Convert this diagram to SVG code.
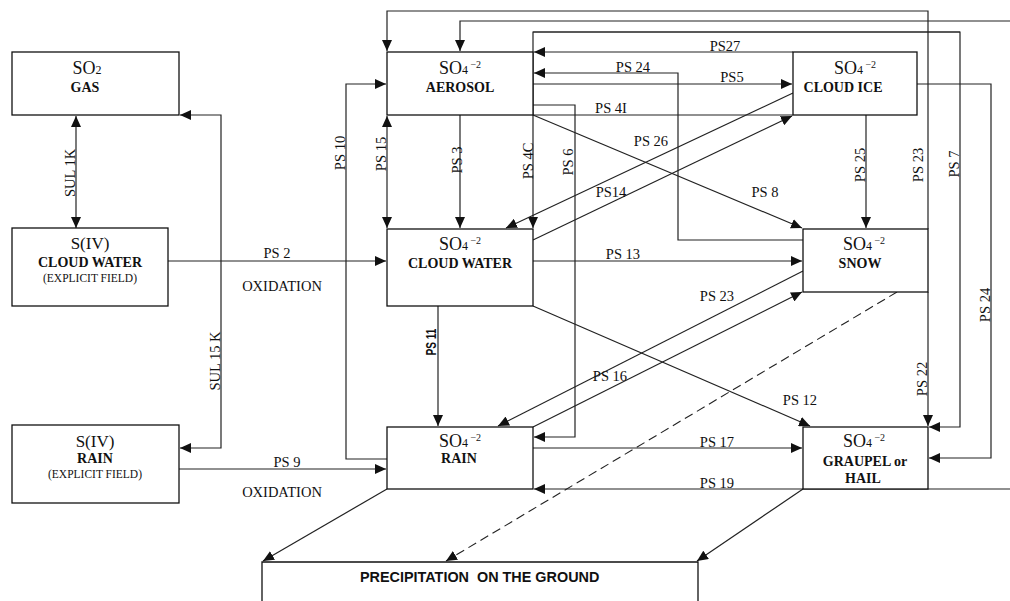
<svg xmlns="http://www.w3.org/2000/svg" width="1010" height="601" viewBox="0 0 1010 601">
<style>
.box{fill:#fff;stroke:#111;stroke-width:1.3}
.ln{fill:none;stroke:#222;stroke-width:1.2}
.dash{fill:none;stroke:#222;stroke-width:1.1;stroke-dasharray:9,5}
.t{font-family:"Liberation Serif","Times New Roman",serif;fill:#111}
.big{font-size:18px}
.bold{font-size:14px;font-weight:bold}
.small{font-size:11.5px}
.lab{font-family:"Liberation Serif","Times New Roman",serif;font-size:14.5px;fill:#111}
.sans{font-family:"Liberation Sans",Arial,sans-serif;font-weight:bold;fill:#111}
</style>
<defs>
<marker id="ar" markerUnits="userSpaceOnUse" markerWidth="12" markerHeight="10" refX="11" refY="5" orient="auto-start-reverse">
<path d="M0,0 L11,5 L0,10 z" fill="#111"/>
</marker>
</defs>
<rect width="1010" height="601" fill="#fff"/>

<g id="connectors">
<path class="ln" d="M76,116 V228" marker-start="url(#ar)" marker-end="url(#ar)"/>
<path class="ln" d="M180,115 H221 V448 H180" marker-start="url(#ar)" marker-end="url(#ar)"/>
<path class="ln" d="M168,261 H386" marker-end="url(#ar)"/>
<path class="ln" d="M179,469 H386" marker-end="url(#ar)"/>
<path class="ln" d="M387,459 H346 V84 H386" marker-end="url(#ar)"/>
<path class="ln" d="M928,229 V11 H387 V51" marker-end="url(#ar)"/>
<path class="ln" d="M1010,21 H460 V51" marker-end="url(#ar)"/>
<path class="ln" d="M960,32 H533 V228" marker-end="url(#ar)"/>
<path class="ln" d="M533,32 H960 V427 H929" marker-end="url(#ar)"/>
<path class="ln" d="M793,52 H534" marker-end="url(#ar)"/>
<path class="ln" d="M803,240 H678 V73 H534" marker-end="url(#ar)"/>
<path class="ln" d="M533,84 H792" marker-end="url(#ar)"/>
<path class="ln" d="M533,105 H575 V437 H534" marker-end="url(#ar)"/>
<path class="ln" d="M533,115 H793"/>
<path class="ln" d="M387,116 V228" marker-start="url(#ar)" marker-end="url(#ar)"/>
<path class="ln" d="M460,115 V228" marker-end="url(#ar)"/>
<path class="ln" d="M793,93 L506,228" marker-end="url(#ar)"/>
<path class="ln" d="M533,240 L792,116" marker-end="url(#ar)"/>
<path class="ln" d="M533,115 L802,228" marker-end="url(#ar)"/>
<path class="ln" d="M533,261 H802" marker-end="url(#ar)"/>
<path class="ln" d="M803,271 L498,426" marker-end="url(#ar)"/>
<path class="ln" d="M533,427 L802,292" marker-end="url(#ar)"/>
<path class="ln" d="M533,306 L810,426" marker-end="url(#ar)"/>
<path class="ln" d="M533,448 H802" marker-end="url(#ar)"/>
<path class="ln" d="M1010,489 H534" marker-end="url(#ar)"/>
<path class="ln" d="M438,306 V426" marker-end="url(#ar)"/>
<path class="ln" d="M866,115 V228" marker-end="url(#ar)"/>
<path class="ln" d="M928,292 V426" marker-end="url(#ar)"/>
<path class="ln" d="M917,84 H991 V458 H929" marker-end="url(#ar)"/>
<path class="dash" d="M897,292 L446,561" marker-end="url(#ar)"/>
<path class="ln" d="M387,489 L263,561" marker-end="url(#ar)"/>
<path class="ln" d="M803,489 L697,561" marker-end="url(#ar)"/>
</g>

<g id="labels">
<text class="lab" text-anchor="middle" transform="translate(75,173) rotate(-90)">SUL 1K</text>
<text class="lab" text-anchor="middle" transform="translate(220,361) rotate(-90)">SUL 15 K</text>
<text class="lab" text-anchor="middle" transform="translate(345,153) rotate(-90)">PS 10</text>
<text class="lab" text-anchor="middle" transform="translate(386,154) rotate(-90)">PS 15</text>
<text class="lab" text-anchor="middle" transform="translate(462,160) rotate(-90)">PS 3</text>
<text class="lab" text-anchor="middle" transform="translate(533,161) rotate(-90)">PS 4C</text>
<text class="lab" text-anchor="middle" transform="translate(573,162) rotate(-90)">PS 6</text>
<text class="sans" font-size="14" text-anchor="middle" textLength="27" lengthAdjust="spacingAndGlyphs" transform="translate(436,342) rotate(-90)">PS 11</text>
<text class="lab" text-anchor="middle" transform="translate(865,165) rotate(-90)">PS 25</text>
<text class="lab" text-anchor="middle" transform="translate(923,165) rotate(-90)">PS 23</text>
<text class="lab" text-anchor="middle" transform="translate(959,164) rotate(-90)">PS 7</text>
<text class="lab" text-anchor="middle" transform="translate(927,379) rotate(-90)">PS 22</text>
<text class="lab" text-anchor="middle" transform="translate(990,305) rotate(-90)">PS 24</text>
<text class="lab" text-anchor="middle" x="277" y="258">PS 2</text>
<text class="lab" text-anchor="middle" x="282" y="291">OXIDATION</text>
<text class="lab" text-anchor="middle" x="287" y="467">PS 9</text>
<text class="lab" text-anchor="middle" x="282" y="497">OXIDATION</text>
<text class="lab" text-anchor="middle" x="633" y="72">PS 24</text>
<text class="lab" text-anchor="middle" x="732" y="82">PS5</text>
<text class="lab" text-anchor="middle" x="725" y="51">PS27</text>
<text class="lab" text-anchor="middle" x="611" y="113">PS 4I</text>
<text class="lab" text-anchor="middle" x="651" y="146">PS 26</text>
<text class="lab" text-anchor="middle" x="611" y="197">PS14</text>
<text class="lab" text-anchor="middle" x="765" y="197">PS 8</text>
<text class="lab" text-anchor="middle" x="623" y="259">PS 13</text>
<text class="lab" text-anchor="middle" x="717" y="301">PS 23</text>
<text class="lab" text-anchor="middle" x="610" y="381" font-size="11">PS 16</text>
<text class="lab" text-anchor="middle" x="800" y="405">PS 12</text>
<text class="lab" text-anchor="middle" x="717" y="447">PS 17</text>
<text class="lab" text-anchor="middle" x="717" y="488">PS 19</text>
</g>

<g id="so2-gas">
<rect class="box" x="12" y="52" width="167" height="63"/>
<text class="t big" text-anchor="middle" x="87" y="74">SO<tspan font-size="12">2</tspan></text>
<text class="t bold" text-anchor="middle" x="85" y="92">GAS</text>
</g>
<g id="siv-cloud-water">
<rect class="box" x="12" y="228" width="156" height="78"/>
<text class="t" font-size="17" text-anchor="middle" x="90" y="249">S(IV)</text>
<text class="t bold" text-anchor="middle" x="90" y="267">CLOUD WATER</text>
<text class="t small" text-anchor="middle" x="90" y="282">(EXPLICIT FIELD)</text>
</g>
<g id="siv-rain">
<rect class="box" x="12" y="425" width="167" height="78"/>
<text class="t" font-size="17" text-anchor="middle" x="95" y="447">S(IV)</text>
<text class="t bold" text-anchor="middle" x="95" y="463">RAIN</text>
<text class="t small" text-anchor="middle" x="95" y="478">(EXPLICIT FIELD)</text>
</g>
<g id="so4-aerosol">
<rect class="box" x="387" y="52" width="146" height="63"/>
<text class="t big" text-anchor="middle" x="460" y="74">SO<tspan font-size="12">4</tspan><tspan font-size="10" dy="-6"> −2</tspan></text>
<text class="t bold" text-anchor="middle" x="460" y="92">AEROSOL</text>
</g>
<g id="so4-cloud-water">
<rect class="box" x="387" y="229" width="146" height="77"/>
<text class="t big" text-anchor="middle" x="460" y="250">SO<tspan font-size="12">4</tspan><tspan font-size="10" dy="-6"> −2</tspan></text>
<text class="t bold" text-anchor="middle" x="460" y="268">CLOUD WATER</text>
</g>
<g id="so4-rain">
<rect class="box" x="387" y="427" width="146" height="62"/>
<text class="t big" text-anchor="middle" x="460" y="447">SO<tspan font-size="12">4</tspan><tspan font-size="10" dy="-6"> −2</tspan></text>
<text class="t bold" text-anchor="middle" x="459" y="463">RAIN</text>
</g>
<g id="so4-cloud-ice">
<rect class="box" x="793" y="52" width="124" height="63"/>
<text class="t big" text-anchor="middle" x="855" y="74">SO<tspan font-size="12">4</tspan><tspan font-size="10" dy="-6"> −2</tspan></text>
<text class="t bold" text-anchor="middle" x="843" y="92">CLOUD ICE</text>
</g>
<g id="so4-snow">
<rect class="box" x="803" y="229" width="125" height="63"/>
<text class="t big" text-anchor="middle" x="864" y="250">SO<tspan font-size="12">4</tspan><tspan font-size="10" dy="-6"> −2</tspan></text>
<text class="t bold" text-anchor="middle" x="860" y="268">SNOW</text>
</g>
<g id="so4-graupel">
<rect class="box" x="803" y="427" width="125" height="62"/>
<text class="t big" text-anchor="middle" x="864" y="447">SO<tspan font-size="12">4</tspan><tspan font-size="10" dy="-6"> −2</tspan></text>
<text class="t bold" text-anchor="middle" x="865" y="466">GRAUPEL or</text>
<text class="t bold" text-anchor="middle" x="863" y="483">HAIL</text>
</g>
<g id="precipitation">
<path class="box" fill="none" d="M262,601 V562 H698 V601"/>
<text class="sans" font-size="14.4" x="360" y="582" style="white-space:pre">PRECIPITATION  ON THE GROUND</text>
</g>
</svg>
